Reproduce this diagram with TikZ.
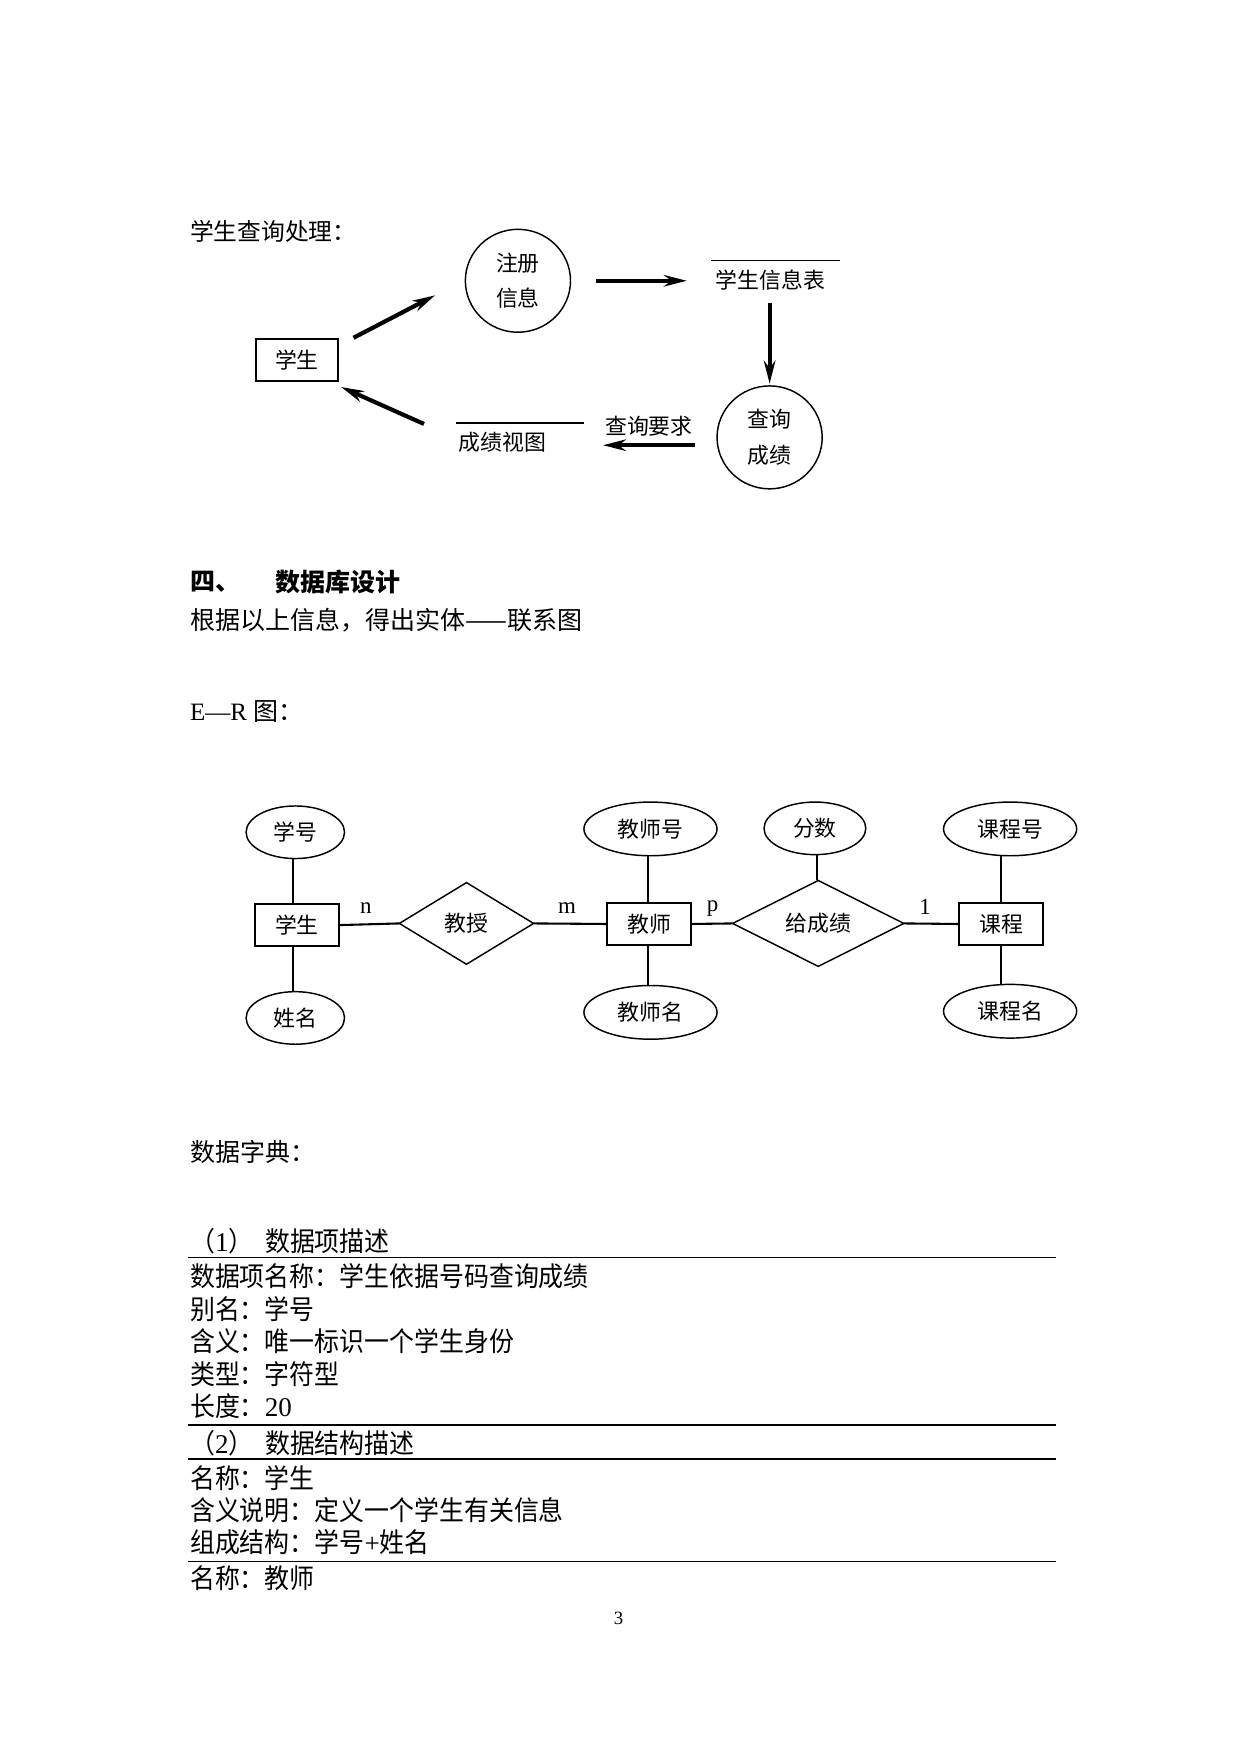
\documentclass[tikz,border=0pt]{standalone}
\usepackage{fontspec}
\setmainfont{Liberation Serif}
\newfontfamily\zh{Noto Sans CJK SC}
\newfontfamily\zhc[FakeStretch=0.92]{Noto Sans CJK SC}
\usetikzlibrary{shapes.geometric,arrows.meta}
\newcommand\unitpx{0.537pt}
\begin{document}
\begin{tikzpicture}[x=0.537pt,y=-0.537pt,
  every node/.style={inner sep=0pt,outer sep=0pt},
  small/.style={font=\fontsize{10.5pt}{13pt}\selectfont\zh},
  body/.style={font=\fontsize{12pt}{14pt}\selectfont\zh,anchor=west},
  dict/.style={font=\fontsize{13pt}{15pt}\selectfont\zhc,anchor=west},
  proc/.style={ellipse,draw,line width=0.7pt,minimum width=94*\unitpx,minimum height=92*\unitpx,small,align=center},
  extbox/.style={rectangle,draw,line width=1pt,minimum width=73*\unitpx,minimum height=38*\unitpx,small},
  store/.style={small,anchor=west},
  arr/.style={line width=2pt,-{Stealth[length=11pt,width=5.5pt]}},
  ent/.style={rectangle,draw,line width=0.9pt,minimum width=75*\unitpx,minimum height=38*\unitpx,small},
  attr/.style={ellipse,draw,line width=0.7pt,minimum width=88*\unitpx,minimum height=47*\unitpx,small},
  attrw/.style={attr,minimum width=119*\unitpx,minimum height=48*\unitpx},
  rel/.style={diamond,draw,line width=0.7pt,minimum width=120*\unitpx,minimum height=73*\unitpx,small},
  conn/.style={line width=1pt},
  card/.style={font=\fontsize{11pt}{13pt}\selectfont},
  rule/.style={line width=0.8pt}
]
\useasboundingbox[fill=white] (0,0) rectangle (1109,1568);

% ---------- top: data flow ----------
\node[body,font=\fontsize{11.4pt}{13pt}\selectfont\zh] (t1) at (170,207) {学生查询处理：};
\node[proc] (reg) at (463,251) {注册\\[4pt]信息};
\node[store] (s1) at (640,250) {学生信息表};
\draw[line width=0.7pt] (636,233) -- (751,233);
\node[proc] (qry) at (688,391) {查询\\[4pt]成绩};
\node[store] (s2) at (410,395) {成绩视图};
\draw[line width=0.7pt] (408,378) -- (522,378);
\node[small,anchor=west] (req) at (541,381) {查询要求};
\node[extbox] (stu) at (265.5,322) {学生};

\coordinate (a1s) at (316,302); \coordinate (a1e) at (389,264);
\coordinate (a2s) at (533,251); \coordinate (a2e) at (614,251);
\coordinate (a3s) at (688,271); \coordinate (a3e) at (688,343);
\coordinate (a4s) at (621,398); \coordinate (a4e) at (539,398);
\coordinate (a5s) at (379,379); \coordinate (a5e) at (305,346);
\draw[arr] (a1s) -- (a1e);
\draw[arr] (a2s) -- (a2e);
\draw[arr] (a3s) -- (a3e);
\draw[arr] (a4s) -- (a4e);
\draw[arr] (a5s) -- (a5e);

% ---------- section 4 ----------
\node[body,font=\fontsize{12pt}{14pt}\selectfont\zh\bfseries] (h1) at (170,520) {四、};
\node[body,font=\fontsize{12pt}{14pt}\selectfont\zh\bfseries] (h2) at (246,520) {数据库设计};
\node[body] (p1) at (170,554) {根据以上信息，得出实体——联系图};
\node[body,font=\fontsize{12pt}{14pt}\selectfont] (p2) at (170,636) {E—R {\zh 图：}};

% ---------- E-R diagram ----------
\node[ent] (xs) at (265.5,827) {学生};
\node[attr] (xh) at (264,744) {学号};
\node[attr] (xm) at (264,910) {姓名};
\node[rel] (jsh) at (417,825.5) {教授};
\node[ent] (js) at (580.5,826) {教师};
\node[attrw] (jsn) at (581.5,741) {教师号};
\node[attrw] (jsm) at (581.5,905) {教师名};
\node[rel,minimum width=153*\unitpx] (gcj) at (731.5,825.5) {给成绩};
\node[attr,minimum width=91*\unitpx] (fs) at (728.5,740.5) {分数};
\node[ent] (kc) at (895,826) {课程};
\node[attrw] (kch) at (903,741) {课程号};
\node[attrw] (kcm) at (903,904) {课程名};

\draw[conn] (xs.north -| 262,0) -- (xh.south -| 262,0);
\draw[conn] (xs.south -| 262,0) -- (xm.north -| 262,0);
\draw[conn] (xs.east) -- (jsh.west);
\draw[conn] (jsh.east) -- (js.west);
\draw[conn] (js.north -| 579,0) -- (jsn.south -| 579,0);
\draw[conn] (js.south -| 579,0) -- (jsm.north -| 579,0);
\draw[conn] (js.east) -- (gcj.west);
\draw[conn] (gcj.north -| 730,0) -- (fs.south -| 730,0);
\draw[conn] (gcj.east) -- (kc.west);
\draw[conn] (kc.north -| 895,0) -- (kch.south -| 895,0);
\draw[conn] (kc.south -| 895,0) -- (kcm.north -| 895,0);

\node[card] (cn) at (327,812) {n};
\node[card] (cm) at (507,812) {m};
\node[card] (cp) at (637,812) {p};
\node[card] (c1) at (827,811) {1};

% ---------- data dictionary ----------
\node[body] (d0) at (170,1030) {数据字典：};
\node[dict] (d1a) at (170,1110) {（{\fontspec{Liberation Serif}1}）};
\node[dict] (d1) at (237,1110) {数据项描述};
\draw[rule] (168,1124) -- (944,1124);
\node[dict] (d2) at (170,1141) {数据项名称：学生依据号码查询成绩};
\node[dict] (d3) at (170,1170) {别名：学号};
\node[dict] (d4) at (170,1199) {含义：唯一标识一个学生身份};
\node[dict] (d5) at (170,1228) {类型：字符型};
\node[dict] (d6) at (170,1257) {长度：{\fontspec{Liberation Serif}20}};
\draw[rule] (168,1274) -- (944,1274);
\node[dict] (d7a) at (170,1290) {（{\fontspec{Liberation Serif}2}）};
\node[dict] (d7) at (237,1290) {数据结构描述};
\draw[rule] (168,1304) -- (944,1304);
\node[dict] (d8) at (170,1321) {名称：学生};
\node[dict] (d9) at (170,1350) {含义说明：定义一个学生有关信息};
\node[dict] (d10) at (170,1379) {组成结构：学号{\fontspec{Liberation Serif}+}姓名};
\draw[rule] (168,1396) -- (944,1396);
\node[dict] (d11) at (170,1411) {名称：教师};
\node[font=\fontsize{9pt}{11pt}\selectfont] (pg) at (553,1447) {3};
\end{tikzpicture}
\end{document}
